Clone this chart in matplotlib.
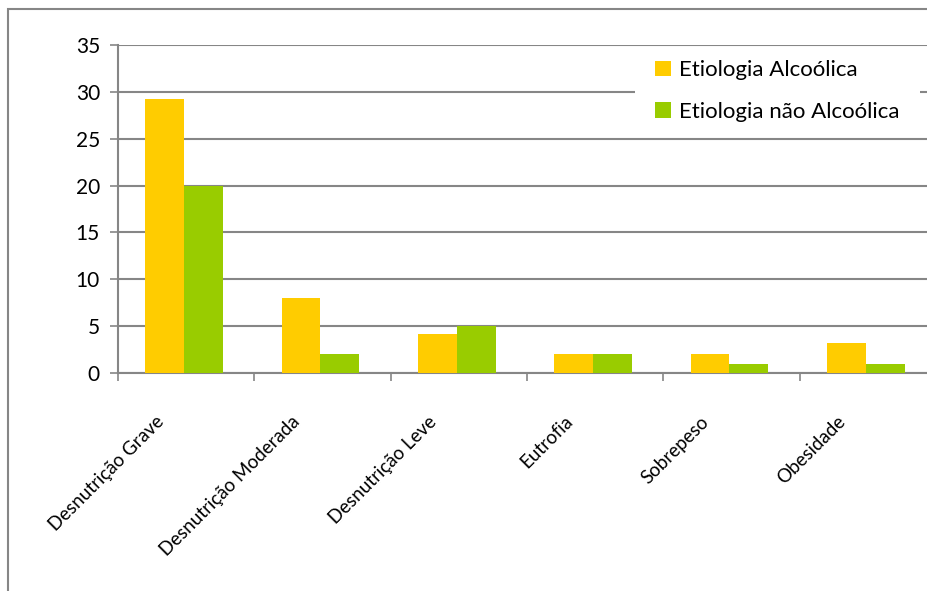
import matplotlib
matplotlib.use("Agg")
import matplotlib.pyplot as plt
import matplotlib.transforms as mtransforms
from matplotlib.patches import Rectangle
import numpy as np

plt.rcParams["font.family"] = ["Lato", "DejaVu Sans"]

# ---- Data ----
categories = [
    "Desnutrição Grave",
    "Desnutrição Moderada",
    "Desnutrição Leve",
    "Eutrofia",
    "Sobrepeso",
    "Obesidade",
]
alcoolica = [29.2, 8, 4.2, 2, 2, 3.2]
nao_alcoolica = [20, 2, 5, 2, 1, 1]
y_ticks = [0, 5, 10, 15, 20, 25, 30, 35]

YELLOW = "#FFCC00"
GREEN = "#99CC00"
GRID = "#868686"

W, H = 928, 591
fig = plt.figure(figsize=(W / 100, H / 100), dpi=100)
ax = fig.add_axes([118 / W, 1 - 373 / H, (936 - 118) / W, (373 - 45) / H])

x = np.arange(len(categories))
bw = 0.285
ax.bar(x + 0.485 - bw / 2, alcoolica, width=bw, color=YELLOW,
       label="Etiologia Alcoólica", zorder=3)
ax.bar(x + 0.485 + bw / 2, nao_alcoolica, width=bw, color=GREEN,
       label="Etiologia não Alcoólica", zorder=3)

ax.set_xlim(0, len(categories))
ax.set_ylim(0, 35)
ax.set_yticks(y_ticks)
ax.tick_params(axis="y", length=6, width=1.2, color=GRID, labelsize=15, pad=7)
ax.yaxis.grid(True, color=GRID, linewidth=1.5, zorder=0)

# category boundary ticks on x, labels at centers
ax.set_xticks(np.arange(len(categories) + 1))
ax.set_xticklabels([])
ax.tick_params(axis="x", which="major", length=6, width=1.2, color=GRID)
ax.set_xticks(x + 0.5, minor=True)
ax.set_xticklabels(categories, minor=True, rotation=45, ha="right",
                   va="center", rotation_mode="anchor", fontsize=13.5)
ax.tick_params(axis="x", which="minor", length=0, pad=33)
offset = mtransforms.ScaledTranslation(-0.25, 0, fig.dpi_scale_trans)
for lbl in ax.get_xticklabels(minor=True):
    lbl.set_transform(lbl.get_transform() + offset)

for side in ["top", "right"]:
    ax.spines[side].set_visible(False)
for side in ["left", "bottom"]:
    ax.spines[side].set_color(GRID)
    ax.spines[side].set_linewidth(1.5)
ax.set_axisbelow(True)

# white legend area hiding the gridlines behind it
ax.add_patch(Rectangle((635 / W, 1 - 130 / H), 285 / W, 78 / H,
                       transform=fig.transFigure, facecolor="white",
                       edgecolor="none", zorder=4, clip_on=False))
leg = ax.legend(loc="center left",
                bbox_to_anchor=(655 / W, 1 - 130 / H, 265 / W, 78 / H),
                bbox_transform=fig.transFigure, frameon=False,
                fontsize=16, handlelength=0.7, handleheight=0.7,
                handletextpad=0.4, labelspacing=0.95, borderpad=0,
                borderaxespad=0)
leg.set_zorder(5)

# outer chart border
fig.add_artist(Rectangle((8 / W, -0.1), 1.2, 1.1 - 9 / H, transform=fig.transFigure,
                         facecolor="none", edgecolor=GRID, linewidth=1.5, zorder=10))

fig.savefig("out.png", dpi=100)
